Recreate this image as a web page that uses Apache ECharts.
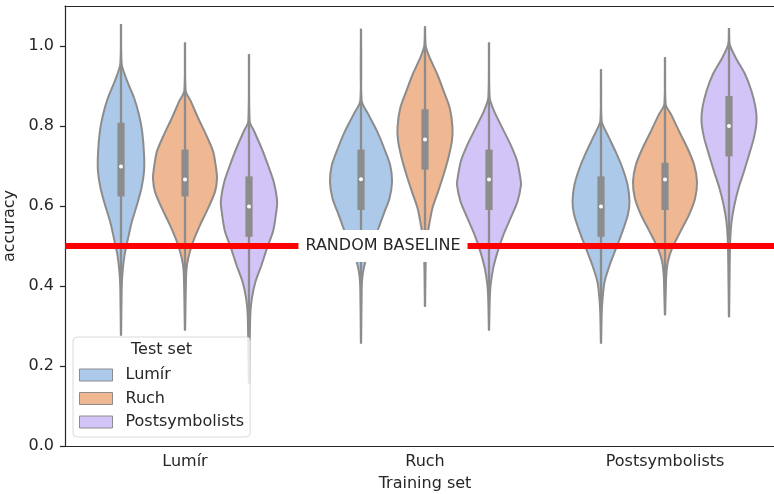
<!DOCTYPE html>
<html>
<head>
<meta charset="utf-8">
<title>Violin plot</title>
<script src="https://cdn.jsdelivr.net/npm/echarts@6/dist/echarts.min.js"></script>
<style>
  html, body { margin: 0; padding: 0; background: #fff; }
  #chart { width: 774px; height: 494px; }
</style>
</head>
<body>
<div id="chart"></div>
<script>
// categories
const trainingSets = ["Lumír", "Ruch", "Postsymbolists"];
const testSets = ["Lumír", "Ruch", "Postsymbolists"];
const yTickValues = [0, 0.2, 0.4, 0.6, 0.8, 1.0];
const baseline = 0.5;

// box stats, rows = test set, columns = training set
const quartile1 = [[0.624, 0.590, 0.523], [0.624, 0.691, 0.590], [0.523, 0.590, 0.724]];
const medians   = [[0.699, 0.667, 0.599], [0.666, 0.766, 0.666], [0.599, 0.666, 0.800]];
const quartile3 = [[0.808, 0.741, 0.674], [0.741, 0.842, 0.708], [0.674, 0.741, 0.875]];

// density outlines [accuracy, relative density], one per training set
const densityLumir = [
  [[1.055, 0], [0.955, 0.02], [0.913, 0.19], [0.870, 0.41], [0.829, 0.56], [0.787, 0.66], [0.729, 0.72], [0.687, 0.72], [0.645, 0.64], [0.603, 0.50], [0.561, 0.34], [0.519, 0.22], [0.477, 0.11], [0.436, 0.05], [0.394, 0.02], [0.276, 0]],
  [[1.043, 0], [0.863, 0.02], [0.829, 0.23], [0.787, 0.50], [0.745, 0.72], [0.703, 0.91], [0.661, 0.97], [0.619, 0.89], [0.578, 0.70], [0.545, 0.55], [0.500, 0.33], [0.462, 0.14], [0.427, 0.05], [0.390, 0.02], [0.256, 0]],
  [[0.942, 0], [0.812, 0.02], [0.779, 0.20], [0.737, 0.45], [0.695, 0.67], [0.653, 0.83], [0.611, 0.89], [0.578, 0.84], [0.536, 0.67], [0.494, 0.47], [0.452, 0.27], [0.410, 0.11], [0.369, 0.05], [0.330, 0.02], [0.256, 0]]
];
const densityRuch = [
  [[1.009, 0], [0.888, 0.02], [0.862, 0.18], [0.820, 0.41], [0.778, 0.66], [0.736, 0.88], [0.695, 0.97], [0.669, 1.00], [0.636, 0.94], [0.594, 0.72], [0.552, 0.47], [0.510, 0.25], [0.469, 0.10], [0.435, 0.04], [0.289, 0]],
  [[1.049, 0], [1.001, 0.02], [0.972, 0.14], [0.930, 0.38], [0.888, 0.58], [0.846, 0.77], [0.796, 0.86], [0.762, 0.84], [0.720, 0.73], [0.678, 0.58], [0.636, 0.41], [0.594, 0.23], [0.553, 0.13], [0.520, 0.06], [0.460, 0.02], [0.348, 0]],
  [[0.972, 0], [0.854, 0.02], [0.829, 0.19], [0.787, 0.44], [0.745, 0.70], [0.703, 0.91], [0.661, 1.00], [0.619, 0.94], [0.578, 0.75], [0.536, 0.48], [0.494, 0.22], [0.461, 0.09], [0.427, 0.04], [0.380, 0.02], [0.327, 0]]
];
const densityPost = [
  [[0.980, 0], [0.812, 0.02], [0.787, 0.16], [0.745, 0.39], [0.703, 0.59], [0.661, 0.77], [0.611, 0.88], [0.578, 0.84], [0.536, 0.75], [0.494, 0.56], [0.452, 0.39], [0.410, 0.20], [0.369, 0.09], [0.327, 0.04], [0.156, 0]],
  [[1.009, 0], [0.871, 0.02], [0.837, 0.16], [0.796, 0.41], [0.754, 0.67], [0.712, 0.88], [0.670, 0.98], [0.653, 1.00], [0.611, 0.89], [0.569, 0.67], [0.528, 0.45], [0.486, 0.27], [0.444, 0.13], [0.402, 0.05], [0.360, 0.02], [0.289, 0]],
  [[1.045, 0], [1.005, 0.02], [0.972, 0.20], [0.930, 0.50], [0.888, 0.70], [0.846, 0.83], [0.812, 0.86], [0.771, 0.78], [0.729, 0.63], [0.687, 0.47], [0.645, 0.30], [0.603, 0.17], [0.561, 0.08], [0.519, 0.04], [0.450, 0.02], [0.322, 0]]
];
const densities = [densityLumir, densityRuch, densityPost];

const fills = ["#acc9ea", "#efb792", "#d3c4f7"];
const gray = "#8c8c8c";
const ink = "#262626";
const font = "DejaVu Sans";
const fontSize = 16;

const chart = echarts.init(document.getElementById("chart"));

// violin + inner box
const renderViolin = (params, api) => {
  const hue = params.seriesIndex;
  const train = api.value(0);
  const band = api.size([1, 0])[0];
  const hueWidth = (band * 0.8) / testSets.length;
  const cx = api.coord([train, 0])[0] + (hue - 1) * hueWidth;
  const half = hueWidth / 2;
  const profile = densities[hue][train];
  const yOf = (v) => api.coord([train, v])[1];

  const right = profile.map((p) => [cx + p[1] * half, yOf(p[0])]);
  const left = profile.slice().reverse().map((p) => [cx - p[1] * half, yOf(p[0])]);

  const top = yOf(profile[0][0]);
  const bottom = yOf(profile[profile.length - 1][0]);
  const q1 = yOf(quartile1[hue][train]);
  const q3 = yOf(quartile3[hue][train]);
  const med = yOf(medians[hue][train]);

  return {
    type: "group",
    children: [
      {
        type: "polygon",
        shape: { points: right.concat(left), smooth: 0.25 },
        style: { fill: fills[hue], stroke: gray, lineWidth: 2 },
      },
      {
        type: "line",
        shape: { x1: cx, y1: top, x2: cx, y2: bottom },
        style: { stroke: gray, lineWidth: 2.3 },
      },
      {
        type: "rect",
        shape: { x: cx - 3.6, y: q3, width: 7.2, height: q1 - q3 },
        style: { fill: gray },
      },
      {
        type: "circle",
        shape: { cx: cx, cy: med, r: 2 },
        style: { fill: "#ffffff" },
      },
    ],
  };
};

// random baseline line across the axes
const renderBaseline = (params, api) => {
  const cs = params.coordSys;
  const y = api.coord([0, baseline])[1];
  return {
    type: "line",
    shape: { x1: cs.x, y1: y, x2: cs.x + cs.width, y2: y },
    style: { stroke: "#ff0000", lineWidth: 6 },
  };
};

// label in a white box
const renderBaselineLabel = (params, api) => {
  const band = api.size([1, 0])[0];
  const x = api.coord([0, baseline])[0] + 0.825 * band;
  const y = api.coord([0, baseline])[1];
  return {
    type: "text",
    x: x,
    y: y,
    style: {
      text: "RANDOM BASELINE",
      fontFamily: font,
      fontSize: fontSize,
      fill: ink,
      align: "center",
      verticalAlign: "middle",
      backgroundColor: "#ffffff",
      padding: [8, 7, 8, 7],
    },
  };
};

const series = testSets.map((name, i) => ({
  name: name,
  type: "custom",
  renderItem: renderViolin,
  itemStyle: { color: fills[i] },
  data: trainingSets.map((t, j) => [j]),
  z: 2,
  silent: true,
}));
series.push({
  type: "custom",
  renderItem: renderBaseline,
  data: [[0]],
  z: 3,
  silent: true,
});
series.push({
  type: "custom",
  renderItem: renderBaselineLabel,
  data: [[0]],
  z: 4,
  silent: true,
});

const option = {
  animation: false,
  textStyle: { fontFamily: font },
  grid: {
    left: 65,
    right: -11,
    top: 6,
    bottom: 48,
    outerBoundsMode: "none",
  },
  xAxis: [
    {
      type: "category",
      data: trainingSets,
      name: "Training set",
      nameLocation: "middle",
      nameGap: 30,
      nameTextStyle: { fontSize: fontSize, color: ink, fontFamily: font },
      axisLine: { lineStyle: { color: ink, width: 1.2 } },
      axisTick: { alignWithLabel: true, length: 5, lineStyle: { color: ink, width: 1.2 } },
      axisLabel: { fontSize: fontSize, color: ink, margin: 8, fontFamily: font },
      splitLine: { show: false },
    },
    {
      // top spine
      type: "category",
      data: trainingSets,
      position: "top",
      axisLine: { show: true, lineStyle: { color: ink, width: 1.2 } },
      axisTick: { show: false },
      axisLabel: { show: false },
      splitLine: { show: false },
    },
  ],
  yAxis: {
    type: "value",
    min: 0,
    max: 1.1,
    name: "accuracy",
    nameLocation: "middle",
    nameGap: 42,
    nameTextStyle: { fontSize: fontSize, color: ink, fontFamily: font },
    axisLine: { show: true, lineStyle: { color: ink, width: 1.2 } },
    axisTick: { show: true, length: 5, customValues: yTickValues, lineStyle: { color: ink, width: 1.2 } },
    axisLabel: {
      fontSize: fontSize,
      color: ink,
      margin: 11,
      fontFamily: font,
      customValues: yTickValues,
      formatter: (v) => v.toFixed(1),
    },
    splitLine: { show: false },
  },
  legend: {
    data: testSets,
    orient: "vertical",
    left: 73,
    top: 337,
    icon: "rect",
    itemWidth: 33,
    itemHeight: 12,
    itemGap: 7.5,
    padding: [30, 6, 7, 6],
    backgroundColor: "rgba(255,255,255,0.8)",
    borderColor: "#d9d9d9",
    borderWidth: 1,
    borderRadius: 4,
    itemStyle: { borderColor: gray, borderWidth: 1 },
    textStyle: { fontSize: fontSize, color: ink, fontFamily: font, padding: [0, 0, 0, 8] },
    z: 10,
  },
  graphic: [
    {
      type: "text",
      left: 131,
      top: 342,
      z: 100,
      style: { text: "Test set", fontSize: fontSize, fontFamily: font, fill: ink },
    },
  ],
  series: series,
};

chart.setOption(option);
</script>
</body>
</html>
